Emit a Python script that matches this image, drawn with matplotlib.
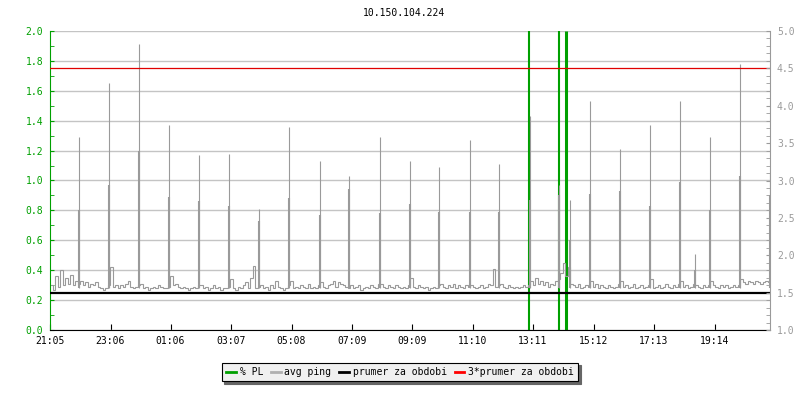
import numpy as np
import matplotlib
matplotlib.use("Agg")
import matplotlib.pyplot as plt
from matplotlib.lines import Line2D

plt.rcParams['font.family'] = 'DejaVu Sans Mono'
plt.rcParams['font.size'] = 7

title = "10.150.104.224"

# x axis in minutes from 21:05, 5 minute samples
tick_pos = [0, 121, 241, 362, 483, 604, 724, 845, 966, 1087, 1208, 1329]
tick_lab = ["21:05", "23:06", "01:06", "03:07", "05:08", "07:09",
            "09:09", "11:10", "13:11", "15:12", "17:13", "19:14"]

# avg ping baseline, one row per hour
base = [
    0.30, 0.27, 0.36, 0.29, 0.40, 0.30, 0.35, 0.31, 0.37, 0.30, 0.33, 0.31,
    0.33, 0.30, 0.32, 0.29, 0.31, 0.30, 0.32, 0.29, 0.28, 0.27, 0.28, 0.30,
    0.42, 0.29, 0.30, 0.28, 0.30, 0.29, 0.31, 0.33, 0.29, 0.28, 0.29, 0.30,
    0.31, 0.28, 0.29, 0.27, 0.28, 0.29, 0.28, 0.30, 0.29, 0.28, 0.28, 0.29,
    0.36, 0.30, 0.31, 0.29, 0.28, 0.29, 0.28, 0.27, 0.28, 0.29, 0.28, 0.30,
    0.30, 0.28, 0.29, 0.27, 0.28, 0.30, 0.28, 0.29, 0.27, 0.28, 0.28, 0.29,
    0.34, 0.28, 0.27, 0.29, 0.28, 0.30, 0.32, 0.28, 0.35, 0.43, 0.28, 0.29,
    0.30, 0.28, 0.29, 0.27, 0.30, 0.28, 0.33, 0.29, 0.28, 0.27, 0.28, 0.30,
    0.33, 0.28, 0.29, 0.28, 0.30, 0.29, 0.28, 0.31, 0.28, 0.29, 0.28, 0.30,
    0.32, 0.29, 0.28, 0.30, 0.31, 0.33, 0.29, 0.32, 0.31, 0.30, 0.29, 0.28,
    0.30, 0.28, 0.29, 0.30, 0.27, 0.28, 0.29, 0.28, 0.30, 0.29, 0.28, 0.31,
    0.31, 0.29, 0.28, 0.30, 0.29, 0.28, 0.30, 0.29, 0.28, 0.29, 0.28, 0.30,
    0.35, 0.29, 0.28, 0.30, 0.29, 0.28, 0.29, 0.27, 0.28, 0.29, 0.28, 0.30,
    0.31, 0.29, 0.28, 0.30, 0.29, 0.31, 0.28, 0.30, 0.29, 0.28, 0.30, 0.29,
    0.30, 0.29, 0.28, 0.29, 0.30, 0.28, 0.29, 0.31, 0.30, 0.41, 0.29, 0.30,
    0.31, 0.29, 0.28, 0.30, 0.29, 0.28, 0.29, 0.28, 0.29, 0.30, 0.29, 0.30,
    0.33, 0.30, 0.35, 0.31, 0.33, 0.30, 0.32, 0.29, 0.31, 0.30, 0.33, 0.34,
    0.38, 0.45, 0.36, 0.42, 0.31, 0.30, 0.29, 0.31, 0.28, 0.29, 0.30, 0.29,
    0.33, 0.29, 0.31, 0.28, 0.30, 0.29, 0.28, 0.30, 0.29, 0.28, 0.29, 0.31,
    0.33, 0.29, 0.30, 0.28, 0.29, 0.31, 0.28, 0.29, 0.30, 0.28, 0.29, 0.30,
    0.34, 0.28, 0.29, 0.30, 0.28, 0.29, 0.31, 0.29, 0.28, 0.30, 0.29, 0.31,
    0.33, 0.29, 0.30, 0.28, 0.29, 0.31, 0.30, 0.29, 0.28, 0.30, 0.29, 0.30,
    0.33, 0.30, 0.29, 0.28, 0.30, 0.29, 0.30, 0.28, 0.29, 0.30, 0.29, 0.30,
    0.34, 0.32, 0.31, 0.33, 0.32, 0.31, 0.33, 0.32, 0.31, 0.32, 0.33, 0.32,
]
step = 5

# hourly ping spikes: time (min), peak, shoulder
spike_t = [57, 117, 177, 237, 297, 357, 417, 477, 539, 597, 659, 719, 777,
           839, 897, 959, 1017, 1039, 1079, 1139, 1199, 1259, 1289, 1319,
           1379, 1439]
spike_top = [1.29, 1.65, 1.91, 1.37, 1.17, 1.18, 0.81, 1.36, 1.13, 1.03,
             1.29, 1.13, 1.09, 1.27, 1.11, 1.43, 0.97, 0.87, 1.53, 1.21,
             1.37, 1.53, 0.51, 1.29, 1.78, 1.05]
spike_mid = [0.80, 0.97, 1.20, 0.89, 0.86, 0.83, 0.73, 0.88, 0.77, 0.94,
             0.78, 0.84, 0.79, 0.79, 0.79, 0.87, 0.90, 0.60, 0.91, 0.93,
             0.83, 0.99, 0.40, 0.80, 1.03, 0.90]

# packet loss impulses
pl_t = [958, 1017, 1032]
pl_val = [2.0, 2.0, 2.0]
pl_w = [1.5, 1.5, 2.2]

prumer = 0.25
prumer3 = 1.75

green = '#00a000'
gray = '#9a9a9a'
grid = '#c4c4c4'

fig = plt.figure(figsize=(8, 4), dpi=100)
ax = fig.add_axes([50 / 800, 1 - 330 / 400, 720 / 800, 299 / 400])

ax.set_xlim(0, 1440)
ax.set_ylim(0, 2.0)
ax.set_yticks(np.arange(0, 2.01, 0.2))
ax.set_yticks(np.arange(0, 2.01, 0.1), minor=True)
ax.yaxis.set_major_formatter(matplotlib.ticker.FormatStrFormatter('%.1f'))
ax.grid(axis='y', color=grid, lw=1, zorder=0)
ax.set_axisbelow(True)

ax.vlines(pl_t, 0, pl_val, colors=green, lw=pl_w, zorder=1)

edges = np.arange(len(base) + 1) * step
ax.stairs(base, edges, baseline=None, color=gray, lw=0.8, zorder=2)
ax.vlines(spike_t, 0.28, spike_top, colors=gray, lw=0.8, zorder=2)
ax.vlines(spike_t, 0.28, spike_mid, colors=gray, lw=1.5, zorder=2)

ax.axhline(prumer, color='black', lw=1.6, zorder=3)
ax.axhline(prumer3, color='#e00000', lw=0.9, zorder=3)

ax.set_xticks(tick_pos)
ax.set_xticklabels(tick_lab)
ax.tick_params(axis='x', direction='in', length=4, colors='black', pad=4)
ax.tick_params(axis='y', which='both', direction='in', length=3,
               colors=green, labelcolor=green, pad=5)
ax.spines['left'].set_color(green)
ax.spines['top'].set_visible(False)
ax.spines['right'].set_visible(False)
ax.spines['bottom'].set_color('black')

ax2 = ax.twinx()
ax2.set_ylim(1.0, 5.0)
ax2.set_yticks(np.arange(1.0, 5.01, 0.5))
ax2.set_yticks(np.arange(1.0, 5.01, 0.1), minor=True)
ax2.yaxis.set_major_formatter(matplotlib.ticker.FormatStrFormatter('%.1f'))
ax2.tick_params(axis='y', which='both', direction='in', length=3,
                colors=gray, labelcolor=gray, pad=5)
for s in ['left', 'top', 'bottom']:
    ax2.spines[s].set_visible(False)
ax2.spines['right'].set_color(gray)

fig.text(0.505, 1 - 13 / 400, title, ha='center', va='center', fontsize=7)

handles = [Line2D([], [], color=green, lw=2),
           Line2D([], [], color='#b0b0b0', lw=2),
           Line2D([], [], color='black', lw=2),
           Line2D([], [], color='#ff0000', lw=2)]
labels = ["% PL", "avg ping", "prumer za obdobi", "3*prumer za obdobi"]
leg = fig.legend(handles, labels, loc='center', bbox_to_anchor=(0.5, 1 - 372 / 400),
                 ncol=4, frameon=True, fancybox=False,
                 shadow={'color': '#666666', 'alpha': 1},
                 handlelength=1.0, handletextpad=0.4, columnspacing=0.8,
                 borderpad=0.45, fontsize=7)
leg.get_frame().set_facecolor('#f0f0f0')
leg.get_frame().set_edgecolor('black')
leg.get_frame().set_linewidth(0.8)

fig.savefig("out.png", dpi=100)
